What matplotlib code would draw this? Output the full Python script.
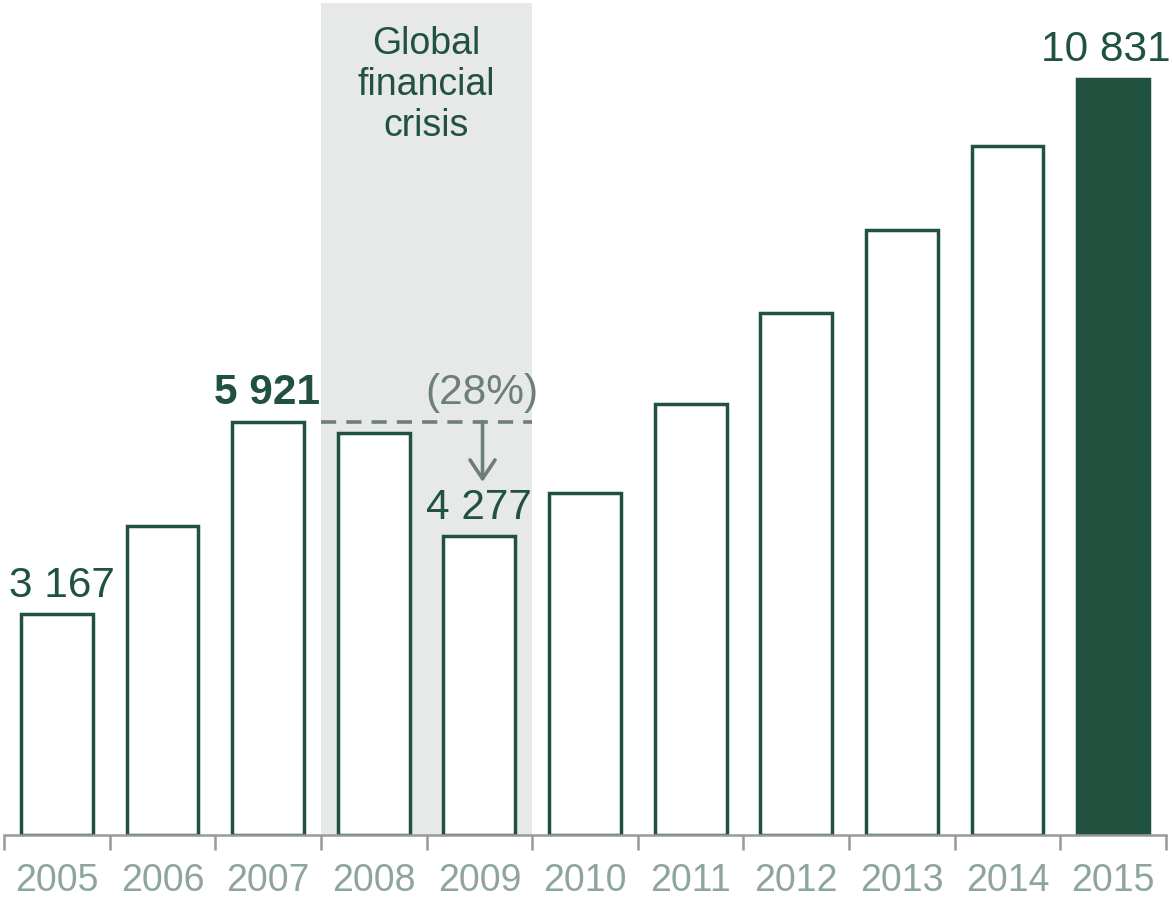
import matplotlib.pyplot as plt
import numpy as np

# Valeurs annuelles
years = ["2005", "2006", "2007", "2008", "2009", "2010",
         "2011", "2012", "2013", "2014", "2015"]
values = [3167, 4420, 5921, 5760, 4277, 4900, 6180, 7480, 8670, 9870, 10831]

# Libellés affichés au-dessus de certaines barres
labels = {0: "3 167", 2: "5 921", 4: "4 277", 10: "10 831"}
crisis_text = "Global\nfinancial\ncrisis"
drop_text = "(28%)"

green = "#215240"
grey_txt = "#8ea59b"
grey_arrow = "#6c7f78"
shade = "#e6e9e7"

plt.rcParams["font.family"] = ["Liberation Sans", "DejaVu Sans"]

fig = plt.figure(figsize=(11.72, 8.98), dpi=100)
ax = fig.add_axes([4 / 1172, 63 / 898, 1162 / 1172, 835 / 898])

x = np.arange(len(years))

# Zone grisée de la crise (2008-2009)
ax.axvspan(2.5, 4.5, ymax=0.997, color=shade, zorder=0, lw=0)

for i, v in enumerate(values):
    last = i == len(values) - 1
    ax.bar(i, v, width=0.68, facecolor=green if last else "white",
           edgecolor=green, linewidth=2.5, zorder=2)

# Libellés de valeurs
offsets = {0: 0.05, 2: -0.01, 4: 0.0, 10: -0.07}
for i, txt in labels.items():
    ax.text(i + offsets[i], values[i] + 120, txt, ha="center", va="bottom",
            fontsize=30.5, color=green,
            fontweight="bold" if i == 2 else "normal", zorder=3)

ax.text(3.5, 10745, crisis_text, ha="center", va="center", fontsize=27,
        color=green, linespacing=1.17)

# Ligne pointillée au niveau de 2007 et flèche de baisse
ax.plot([2.5, 4.5], [values[2], values[2]], ls=(0, (4.2, 2.8)),
        color=grey_arrow, lw=2.6, zorder=3)
ax.annotate("", xy=(4.03, values[4] + 780), xytext=(4.03, values[2]),
            arrowprops=dict(arrowstyle="->,head_length=0.45,head_width=0.3",
                            color=grey_arrow, lw=2.6,
                            mutation_scale=30, shrinkA=0, shrinkB=0),
            zorder=3)
ax.text(4.02, values[2] + 120, drop_text, ha="center", va="bottom",
        fontsize=30.5, color=grey_arrow, zorder=3)

ax.set_xlim(-0.5, len(years) - 0.5)
ax.set_ylim(0, 11960)

for s in ["top", "right", "left"]:
    ax.spines[s].set_visible(False)
ax.spines["bottom"].set_color("#999999")
ax.spines["bottom"].set_linewidth(1.8)
ax.set_yticks([])

# Graduations entre les catégories, libellés centrés
ax.set_xticks(np.arange(-0.5, len(years), 1.0))
ax.set_xticklabels([])
ax.tick_params(axis="x", direction="out", length=11, width=1.8,
               color="#999999")
ax.set_xticks(x, minor=True)
ax.set_xticklabels(years, minor=True, fontsize=27, color=grey_txt)
ax.tick_params(axis="x", which="minor", length=0, pad=20)

fig.savefig("out.png", dpi=100)
